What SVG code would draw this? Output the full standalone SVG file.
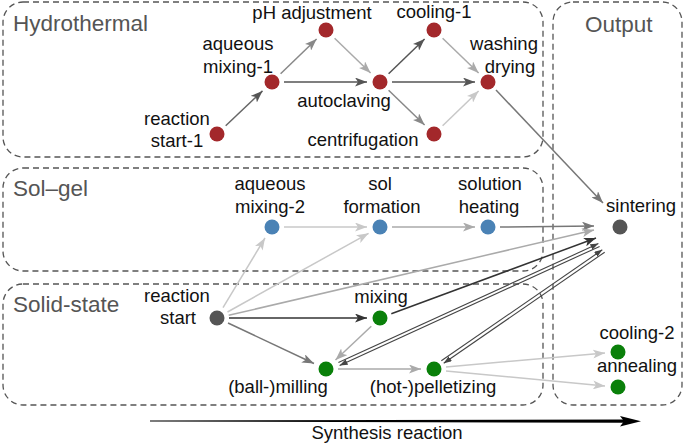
<svg xmlns="http://www.w3.org/2000/svg" width="685" height="445" viewBox="0 0 685 445">
<style>
.box{fill:none;stroke:#555;stroke-width:1.3;stroke-dasharray:6,4}
.title{font-family:"Liberation Sans",Arial,sans-serif;font-size:22.5px;fill:#555}
.lbl{font-family:"Liberation Sans",Arial,sans-serif;font-size:18.5px;fill:#111;text-anchor:middle}
.e{fill:none;stroke-width:1.5}
.d{fill:none;stroke:#444;stroke-width:1.1}
.red{fill:#a3282b}.blue{fill:#4a82b5}.grey{fill:#555}.green{fill:#0a800a}
</style>
<defs>
<marker id="a333" markerUnits="userSpaceOnUse" markerWidth="12" markerHeight="9" refX="12" refY="4.5" orient="auto"><path d="M0,0 L12,4.5 L0,9 L3,4.5 z" fill="#333"/></marker>
<marker id="a555" markerUnits="userSpaceOnUse" markerWidth="12" markerHeight="9" refX="12" refY="4.5" orient="auto"><path d="M0,0 L12,4.5 L0,9 L3,4.5 z" fill="#555"/></marker>
<marker id="a777" markerUnits="userSpaceOnUse" markerWidth="12" markerHeight="9" refX="12" refY="4.5" orient="auto"><path d="M0,0 L12,4.5 L0,9 L3,4.5 z" fill="#777"/></marker>
<marker id="a888" markerUnits="userSpaceOnUse" markerWidth="12" markerHeight="9" refX="12" refY="4.5" orient="auto"><path d="M0,0 L12,4.5 L0,9 L3,4.5 z" fill="#888"/></marker>
<marker id="aaaa" markerUnits="userSpaceOnUse" markerWidth="12" markerHeight="9" refX="12" refY="4.5" orient="auto"><path d="M0,0 L12,4.5 L0,9 L3,4.5 z" fill="#aaa"/></marker>
<marker id="accc" markerUnits="userSpaceOnUse" markerWidth="12" markerHeight="9" refX="12" refY="4.5" orient="auto"><path d="M0,0 L12,4.5 L0,9 L3,4.5 z" fill="#c8c8c8"/></marker>
<marker id="asm" markerUnits="userSpaceOnUse" markerWidth="8" markerHeight="6" refX="8" refY="3" orient="auto"><path d="M0,0 L8,3 L0,6 z" fill="#444"/></marker>
</defs>

<g id="groups">
<rect id="hydrothermal-box" class="box" x="3" y="2" width="540" height="155" rx="20"/>
<rect id="solgel-box" class="box" x="3" y="168" width="540" height="103" rx="20"/>
<rect id="solidstate-box" class="box" x="3" y="284" width="540" height="121" rx="20"/>
<rect id="output-box" class="box" x="553" y="2" width="129" height="403" rx="20"/>
<text class="title" x="13" y="31">Hydrothermal</text>
<text class="title" x="13" y="196">Sol–gel</text>
<text class="title" x="13" y="312">Solid-state</text>
<text class="title" x="585" y="32">Output</text>
</g>

<g id="connectors">
<line class="e" stroke="#666" marker-end="url(#a555)" x1="225.7" y1="125.8" x2="262.5" y2="90.9"/>
<line class="e" stroke="#888" marker-end="url(#a888)" x1="280.6" y1="73.7" x2="316.6" y2="39"/>
<line class="e" stroke="#555" marker-end="url(#a555)" x1="284" y1="82" x2="367" y2="82"/>
<line class="e" stroke="#aaa" marker-end="url(#aaaa)" x1="334.6" y1="38.3" x2="370.6" y2="73"/>
<line class="e" stroke="#555" marker-end="url(#a555)" x1="388.6" y1="73.7" x2="424.6" y2="39"/>
<line class="e" stroke="#555" marker-end="url(#a555)" x1="392" y1="82" x2="475" y2="82"/>
<line class="e" stroke="#888" marker-end="url(#a888)" x1="388.6" y1="90.3" x2="424.6" y2="125"/>
<line class="e" stroke="#aaa" marker-end="url(#aaaa)" x1="442.6" y1="38.3" x2="478.6" y2="73"/>
<line class="e" stroke="#c8c8c8" marker-end="url(#accc)" x1="442.6" y1="125.7" x2="478.6" y2="91"/>
<line class="e" stroke="#777" marker-end="url(#a777)" x1="496" y1="90" x2="603" y2="203"/>
<line class="e" stroke="#c8c8c8" marker-end="url(#accc)" x1="284" y1="227" x2="367" y2="227"/>
<line class="e" stroke="#aaa" marker-end="url(#aaaa)" x1="392" y1="227" x2="475" y2="227"/>
<line class="e" stroke="#777" marker-end="url(#a777)" x1="500" y1="227" x2="594" y2="226"/>
<line class="e" stroke="#c8c8c8" marker-end="url(#accc)" x1="223" y1="307.7" x2="265" y2="238"/>
<line class="e" stroke="#c8c8c8" marker-end="url(#accc)" x1="227.5" y1="312" x2="368.6" y2="233.3"/>
<line class="e" stroke="#aaa" marker-end="url(#aaaa)" x1="228.7" y1="315.3" x2="594" y2="230"/>
<line class="e" stroke="#333" marker-end="url(#a333)" x1="229" y1="318" x2="367" y2="318"/>
<line class="e" stroke="#777" marker-end="url(#a777)" x1="228" y1="323" x2="314" y2="363.5"/>
<line class="e" stroke="#333" marker-end="url(#a333)" x1="391.3" y1="313.8" x2="596" y2="238"/>
<line class="e" stroke="#aaa" marker-end="url(#aaaa)" x1="371.3" y1="326.2" x2="335.5" y2="360"/>
<line class="e" stroke="#aaa" marker-end="url(#aaaa)" x1="338" y1="369" x2="421" y2="369"/>
<line class="e" stroke="#c8c8c8" marker-end="url(#accc)" x1="446" y1="367" x2="605" y2="353"/>
<line class="e" stroke="#c8c8c8" marker-end="url(#accc)" x1="446" y1="371" x2="605" y2="386"/>
<line class="d" marker-end="url(#asm)" x1="599.6" y1="246.4" x2="339.6" y2="365.4"/>
<line class="d" marker-end="url(#asm)" x1="338.4" y1="362.6" x2="598.4" y2="243.6"/>
<line class="d" marker-end="url(#asm)" x1="604.7" y1="252.2" x2="443.7" y2="363.2"/>
<line class="d" marker-end="url(#asm)" x1="441.3" y1="360.8" x2="602.3" y2="249.8"/>
</g>

<g id="axis">
<path d="M150,420.4 L624,419.6 L624,422.8 L150,421.6 z" fill="#000"/>
<path d="M620,416 L641,421.3 L620,426.5 L624,421.3 z" fill="#000"/>
<text class="lbl" x="387" y="439">Synthesis reaction</text>
</g>

<g id="n-reaction-start-1"><circle class="red" cx="217" cy="134" r="7.5"/><text class="lbl" x="177" y="125">reaction</text><text class="lbl" x="177" y="147">start-1</text></g>
<g id="n-aqueous-mixing-1"><circle class="red" cx="272" cy="82" r="7.5"/><text class="lbl" x="238" y="50">aqueous</text><text class="lbl" x="238" y="73">mixing-1</text></g>
<g id="n-ph-adjustment"><circle class="red" cx="326" cy="30" r="7.5"/><text class="lbl" x="312" y="19">pH adjustment</text></g>
<g id="n-autoclaving"><circle class="red" cx="380" cy="82" r="7.5"/><text class="lbl" x="344" y="107">autoclaving</text></g>
<g id="n-cooling-1"><circle class="red" cx="434" cy="30" r="7.5"/><text class="lbl" x="434" y="18">cooling-1</text></g>
<g id="n-centrifugation"><circle class="red" cx="434" cy="134" r="7.5"/><text class="lbl" x="363" y="146">centrifugation</text></g>
<g id="n-washing-drying"><circle class="red" cx="488" cy="82" r="7.5"/><text class="lbl" x="504" y="50">washing</text><text class="lbl" x="510" y="73">drying</text></g>
<g id="n-aqueous-mixing-2"><circle class="blue" cx="272" cy="227" r="7.5"/><text class="lbl" x="270" y="190">aqueous</text><text class="lbl" x="270" y="213">mixing-2</text></g>
<g id="n-sol-formation"><circle class="blue" cx="380" cy="227" r="7.5"/><text class="lbl" x="380" y="190">sol</text><text class="lbl" x="382" y="213">formation</text></g>
<g id="n-solution-heating"><circle class="blue" cx="488" cy="227" r="7.5"/><text class="lbl" x="490" y="190">solution</text><text class="lbl" x="489" y="213">heating</text></g>
<g id="n-sintering"><circle class="grey" cx="620" cy="227" r="7.5"/><text class="lbl" x="641" y="212">sintering</text></g>
<g id="n-reaction-start"><circle class="grey" cx="217" cy="318" r="7.5"/><text class="lbl" x="177" y="302">reaction</text><text class="lbl" x="178" y="324">start</text></g>
<g id="n-mixing"><circle class="green" cx="380" cy="318" r="7.5"/><text class="lbl" x="381" y="303">mixing</text></g>
<g id="n-ball-milling"><circle class="green" cx="326" cy="369" r="7.5"/><text class="lbl" x="278" y="393">(ball-)milling</text></g>
<g id="n-hot-pelletizing"><circle class="green" cx="434" cy="369" r="7.5"/><text class="lbl" x="433" y="393">(hot-)pelletizing</text></g>
<g id="n-cooling-2"><circle class="green" cx="618" cy="352" r="7.5"/><text class="lbl" x="637" y="339">cooling-2</text></g>
<g id="n-annealing"><circle class="green" cx="618" cy="387" r="7.5"/><text class="lbl" x="637" y="372">annealing</text></g>
</svg>
